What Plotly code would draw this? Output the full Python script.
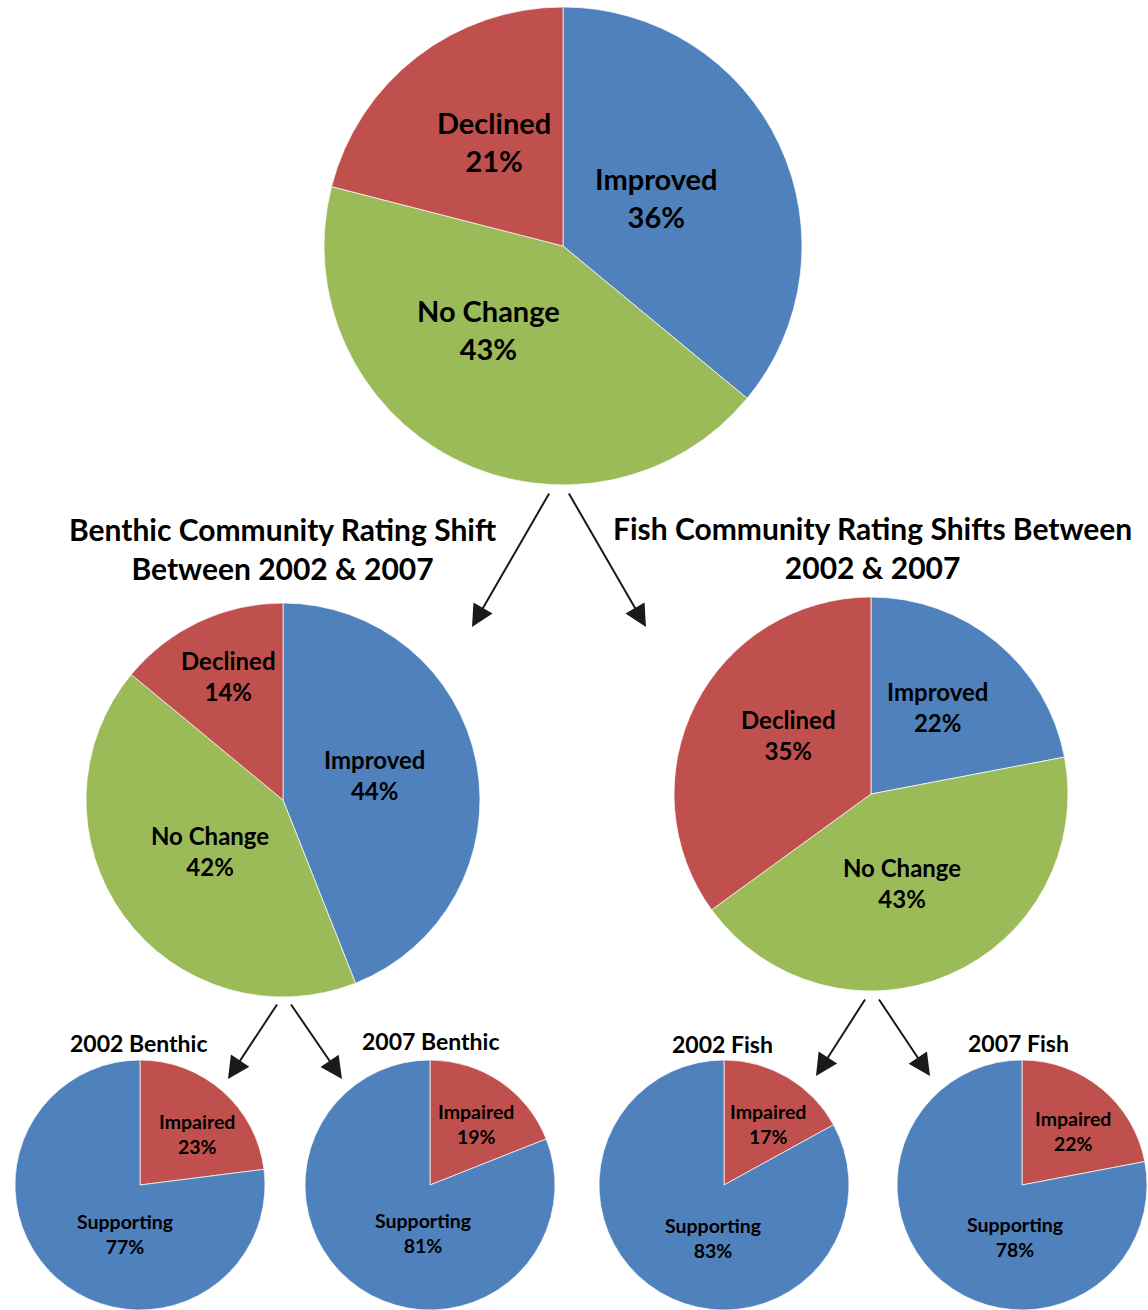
import plotly.graph_objects as go

W, H = 1148, 1310

# Overall rating shift
overall_labels = ["Improved", "No Change", "Declined"]
overall_values = [36, 43, 21]

# Benthic community rating shift 2002 -> 2007
benthic_labels = ["Improved", "No Change", "Declined"]
benthic_values = [44, 42, 14]

# Fish community rating shift 2002 -> 2007
fish_labels = ["Improved", "No Change", "Declined"]
fish_values = [22, 43, 35]

# Status breakdowns per survey year
status_labels = ["Impaired", "Supporting"]
benthic_2002 = [23, 77]
benthic_2007 = [19, 81]
fish_2002 = [17, 83]
fish_2007 = [22, 78]

BLUE, RED, GREEN = "#4F81BD", "#C0504D", "#9BBB59"
shift_colors = {"Improved": BLUE, "No Change": GREEN, "Declined": RED}
status_colors = {"Impaired": RED, "Supporting": BLUE}

FONT = "Lato, 'Open Sans', sans-serif"


def px_x(x):
    return x / W


def px_y(y):
    return 1 - y / H


def domain(cx, cy, r):
    return dict(x=[px_x(cx - r), px_x(cx + r)], y=[px_y(cy + r), px_y(cy - r)])


fig = go.Figure()
annotations = []

# each pie: labels, values, colour map, centre, radius, label font size, label offsets
pies = [
    (overall_labels, overall_values, shift_colors, (563, 246), 239, 29,
     {"Improved": (93, -48), "No Change": (-75, 84), "Declined": (-69, -105)}),
    (benthic_labels, benthic_values, shift_colors, (283, 800), 197, 24,
     {"Improved": (91, -25), "No Change": (-73, 51), "Declined": (-55, -124)}),
    (fish_labels, fish_values, shift_colors, (871, 794), 197, 24,
     {"Improved": (66, -87), "No Change": (31, 89), "Declined": (-83, -59)}),
    (status_labels, benthic_2002, status_colors, (140, 1185), 125, 19.5,
     {"Impaired": (57, -51), "Supporting": (-15, 49)}),
    (status_labels, benthic_2007, status_colors, (430, 1185), 125, 19.5,
     {"Impaired": (46, -61), "Supporting": (-7, 48)}),
    (status_labels, fish_2002, status_colors, (724, 1185), 125, 19.5,
     {"Impaired": (44, -61), "Supporting": (-11, 53)}),
    (status_labels, fish_2007, status_colors, (1022, 1185), 125, 19.5,
     {"Impaired": (51, -54), "Supporting": (-7, 52)}),
]

for labels, values, cmap, (cx, cy), r, fs, offs in pies:
    fig.add_trace(go.Pie(
        labels=labels,
        values=values,
        sort=False,
        direction="clockwise",
        rotation=0,
        marker=dict(colors=[cmap[l] for l in labels],
                    line=dict(color="rgba(255,255,255,0.7)", width=1)),
        textinfo="none",
        hoverinfo="label+percent",
        showlegend=False,
        domain=domain(cx, cy, r),
    ))
    total = sum(values)
    for lab, val in zip(labels, values):
        dx, dy = offs[lab]
        pct = round(100 * val / total)
        annotations.append(dict(
            x=px_x(cx + dx), y=px_y(cy + dy), xref="paper", yref="paper",
            text=f"<b>{lab}</b><br><b>{pct}%</b>", showarrow=False,
            xanchor="center", yanchor="middle",
            font=dict(family=FONT, size=fs, color="black"),
        ))

# chart titles
titles = [
    ("Benthic Community Rating Shift<br>Between 2002 & 2007", 283, 548, 30),
    ("Fish Community Rating Shifts Between<br>2002 & 2007", 872, 547, 30),
    ("2002 Benthic", 138, 1043, 23),
    ("2007 Benthic", 430, 1041, 23),
    ("2002 Fish", 722, 1044, 23),
    ("2007 Fish", 1018, 1043, 23),
]
for txt, x, y, fs in titles:
    annotations.append(dict(
        x=px_x(x), y=px_y(y), xref="paper", yref="paper",
        text=f"<b>{txt}</b>", showarrow=False, xanchor="center", yanchor="middle",
        font=dict(family=FONT, size=fs, color="black"),
    ))

# connecting arrows (tail -> head)
arrows = [
    ((550, 492), (472, 627)),
    ((568, 492), (646, 627)),
    ((278, 1003), (228, 1079)),
    ((290, 1003), (342, 1079)),
    ((866, 998), (816, 1076)),
    ((878, 998), (930, 1076)),
]
for (tx, ty), (hx, hy) in arrows:
    annotations.append(dict(
        x=px_x(hx), y=px_y(hy), xref="paper", yref="paper",
        ax=tx - hx, ay=ty - hy, axref="pixel", ayref="pixel",
        showarrow=True, arrowhead=2, arrowsize=2.2, arrowwidth=2,
        arrowcolor="#1a1a1a", standoff=0, text="",
    ))

fig.update_layout(
    width=W, height=H,
    margin=dict(l=0, r=0, t=0, b=0),
    paper_bgcolor="white", plot_bgcolor="white",
    annotations=annotations,
)

fig.write_html("out.html")
